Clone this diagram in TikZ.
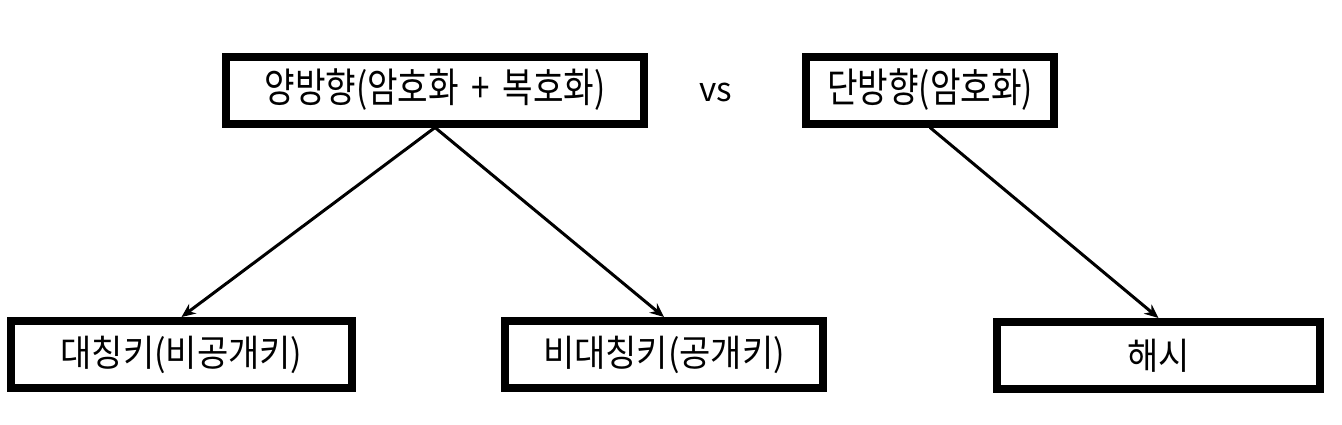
\documentclass[tikz,border=0pt]{standalone}
\usepackage{fontspec}
\usepackage{graphicx}
\setmainfont[WordSpace=1.7]{Noto Sans CJK KR}
\usetikzlibrary{arrows.meta, positioning}

\newcommand{\stretchtext}[2][1.15]{\scalebox{1}[#1]{#2}}

\begin{document}
\begin{tikzpicture}[x=0.5pt, y=-0.5pt, >={Stealth[length=7pt, width=6pt]},
  box/.style={draw, line width=4pt, inner sep=0pt, minimum height=33.5pt},
  toptext/.style={font=\fontsize{16.6}{20}\selectfont},
  bottext/.style={font=\fontsize{17}{20}\selectfont},
  conn/.style={->, line width=1.5pt, line cap=round}]

  \useasboundingbox (0,0) rectangle (1342,424);

  % Top row: two kinds of encryption
  \node[box, toptext, minimum width=209pt] (dual) at (435,90) {\stretchtext[1.22]{양방향(암호화 + 복호화)}};
  \node[toptext] (vs) at (716,92) {vs};
  \node[box, toptext, minimum width=124pt] (oneway) at (930,90) {\stretchtext[1.22]{단방향(암호화)}};

  % Bottom row
  \node[box, bottext, minimum width=170.5pt] (sym) at (181.5,354.5) {\stretchtext[1.08]{대칭키(비공개키)}};
  \node[box, bottext, minimum width=159pt] (asym) at (664,354.5) {\stretchtext[1.08]{비대칭키(공개키)}};
  \node[box, bottext, minimum width=161.5pt] (hash) at (1158.5,355.5) {\stretchtext[1.08]{해시}};

  % Connectors
  \draw[conn] (dual.south) -- (sym.north);
  \draw[conn] (dual.south) -- (asym.north);
  \draw[conn] (oneway.south) -- (hash.north);

\end{tikzpicture}
\end{document}
